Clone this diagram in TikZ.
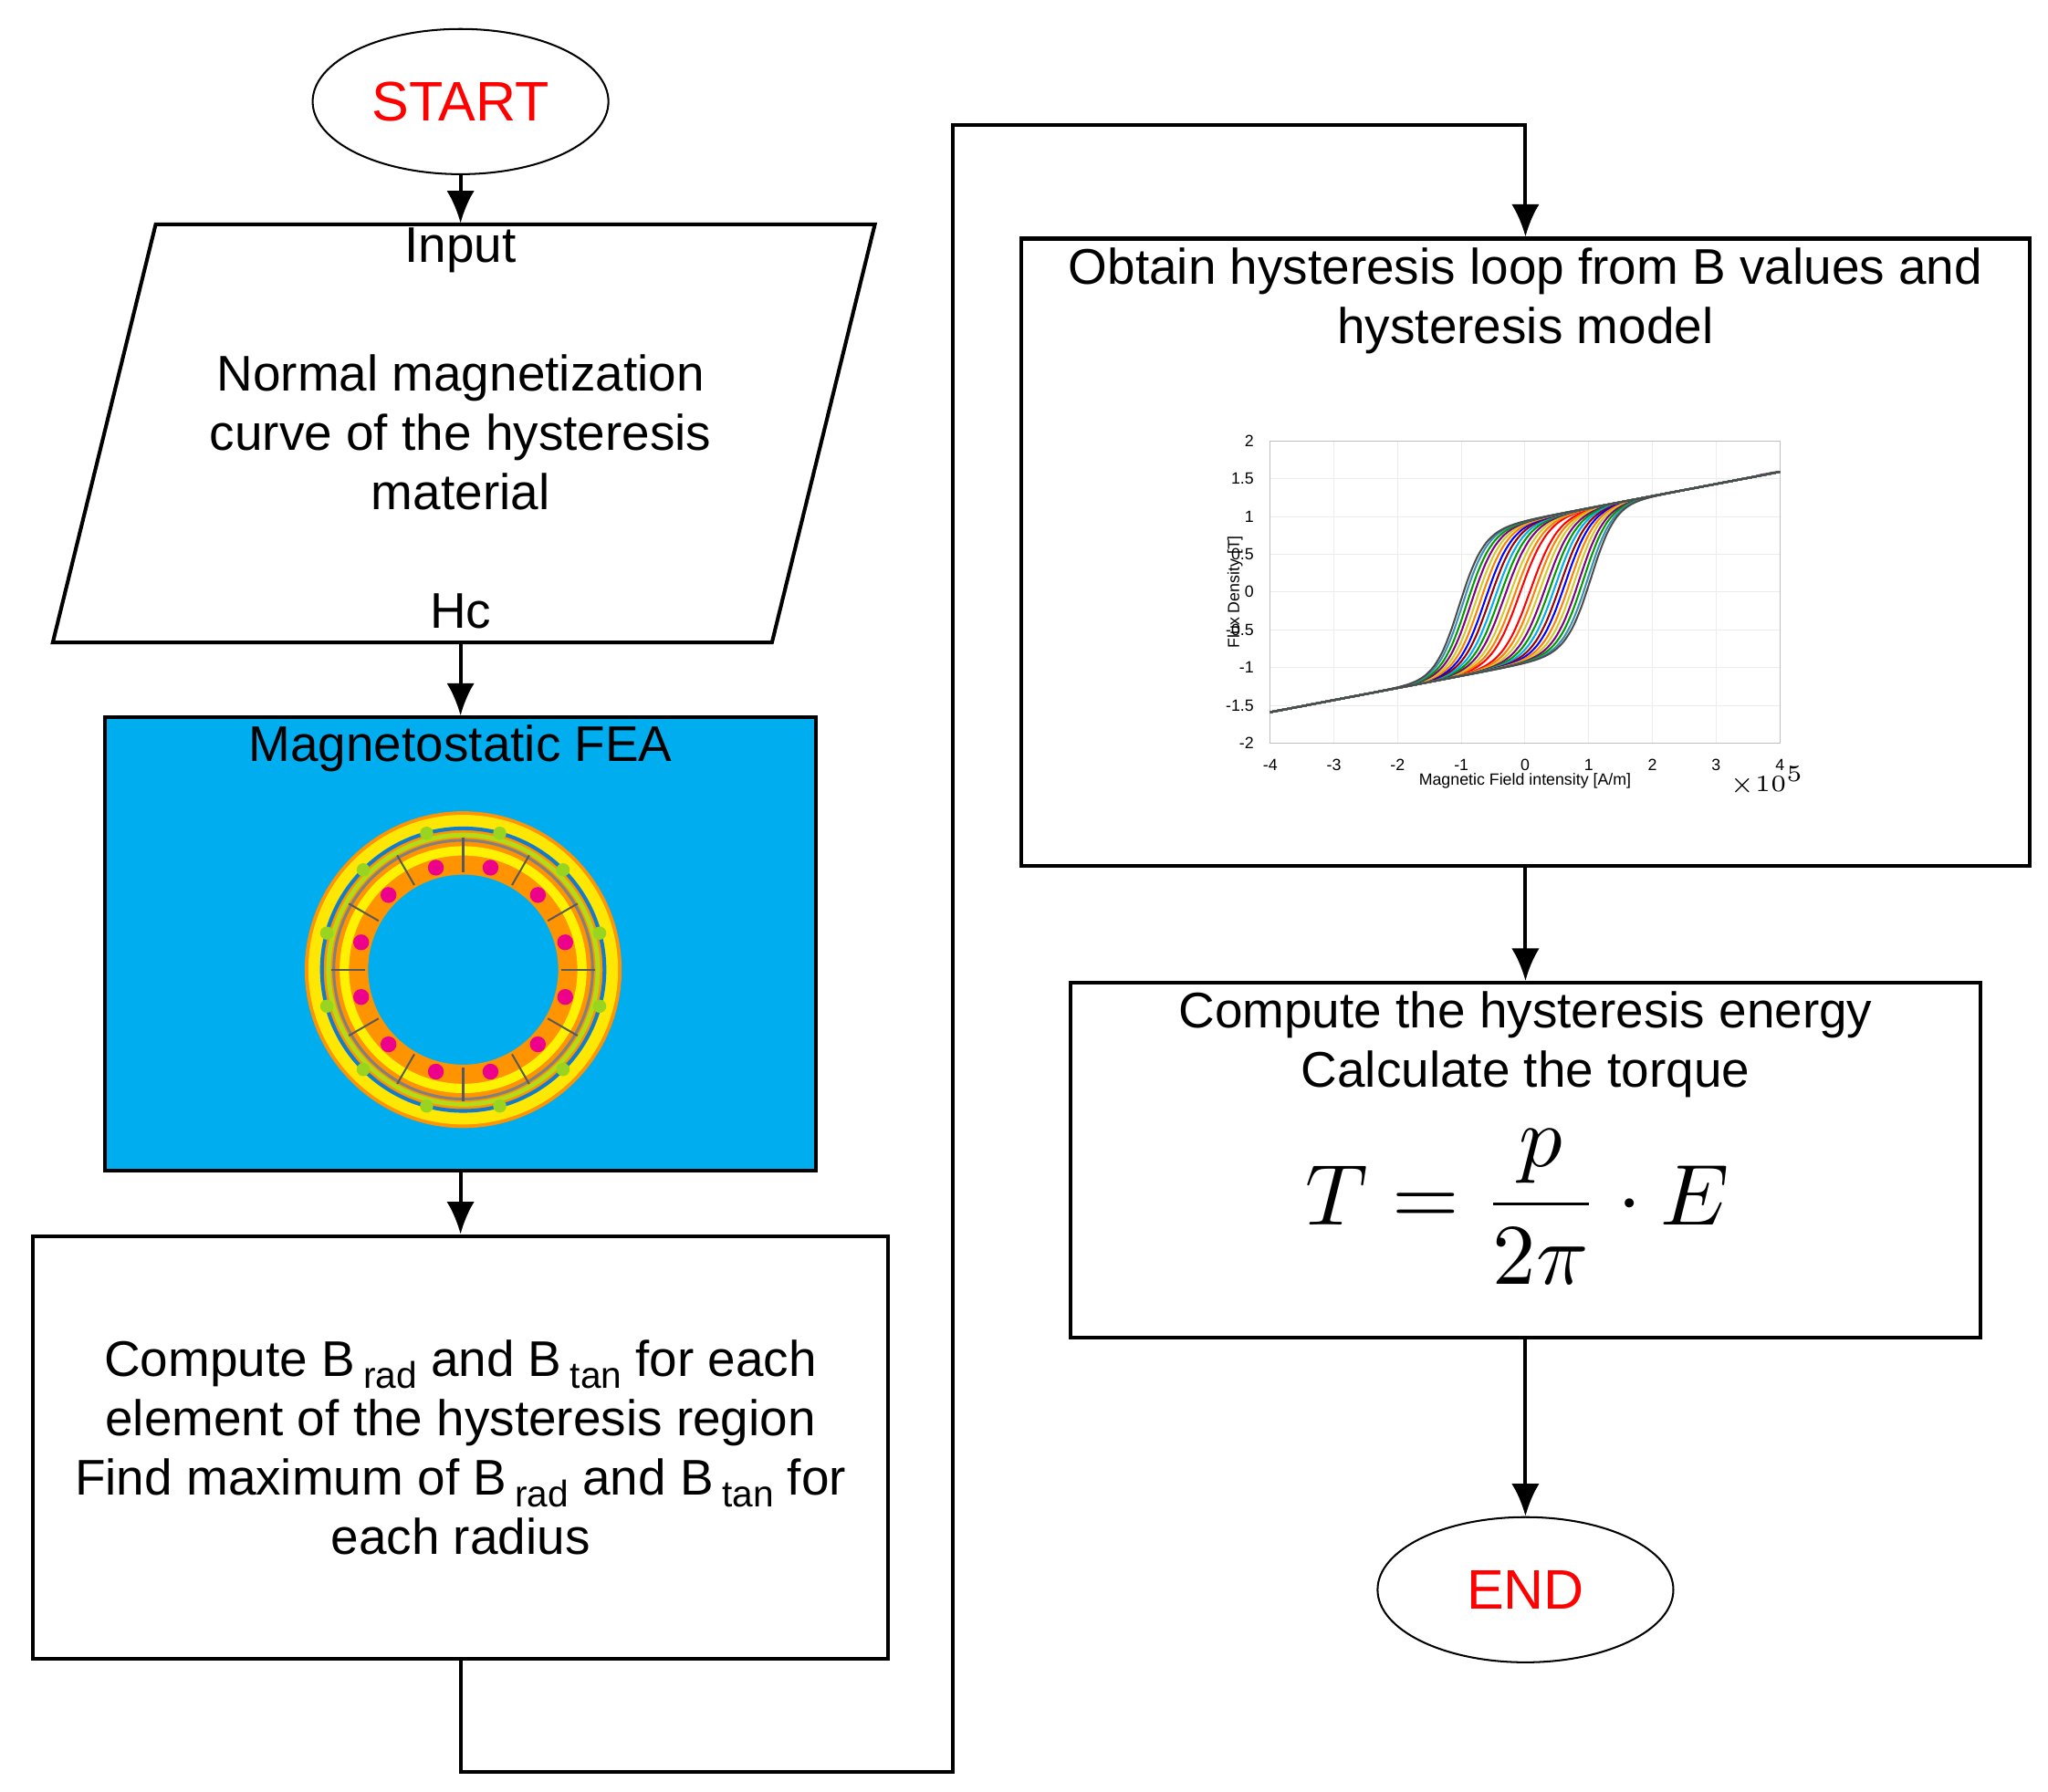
\documentclass[tikz,border=0pt]{standalone}
\usepackage{fontspec}
\setmainfont{Liberation Sans}
\usetikzlibrary{shapes.geometric,arrows.meta}
\newcommand{\sbs}[1]{\,{\raisebox{-0.45ex}{\fontsize{8}{8}\selectfont #1}}}
\begin{document}
\begin{tikzpicture}[x=0.01cm,y=-0.01cm,
  every node/.style={font=\fontsize{10.8}{12.8}\selectfont},
  ell/.style={draw,ellipse,minimum width=2.24cm,minimum height=1.1cm,text=red,font=\fontsize{12}{14}\selectfont},
  arr/.style={-{Latex[length=7pt,width=6pt]},thick}]
\useasboundingbox (0,0) rectangle (1552,1358);
% START
\node[ell] (start) at (349,77) {START};
% parallelogram
\coordinate (p1) at (118,170); \coordinate (p2) at (663,170);
\coordinate (p3) at (585,487); \coordinate (p4) at (40,487);
\draw[thick] (p1)--(p2)--(p3)--(p4)--cycle;
\node[inner sep=0,minimum width=1cm,minimum height=3.17cm] (input) at (349,328.5) {};
\node at (349,190) {Input};
\node[align=center] at (349,328) {Normal magnetization\\curve of the hysteresis\\material};
\node at (349,463) {Hc};
% FEA
\node[draw,thick,fill=cyan,minimum width=5.38cm,minimum height=3.43cm,inner sep=0] (fea) at (349,715.5) {};
\node at (349,567) {Magnetostatic FEA};
\begin{scope}[shift={(351,735)}]
 \fill[orange!85!yellow,even odd rule] (0,0) circle (1.2cm) (0,0) circle (0.72cm);
 \draw[yellow!90!orange,line width=3pt] (0,0) circle (1.12cm);
 \draw[yellow!70!green,line width=1pt] (0,0) circle (1.02cm);
 \draw[yellow,line width=2pt] (0,0) circle (0.9cm);
 \draw[cyan!60!blue,line width=0.8pt] (0,0) circle (1.07cm);
 \draw[gray,line width=0.6pt] (0,0) circle (0.98cm);
 \foreach \a in {0,30,...,330}{
   \fill[magenta] (\a+15:0.8cm) circle (0.06cm);
   \draw[gray!70!black] (\a:0.74cm)--(\a:1.0cm);
   \fill[yellow!60!green] (\a+15:1.07cm) circle (0.05cm);
 }
\end{scope}
% compute box
\node[draw,thick,minimum width=6.48cm,minimum height=3.2cm,align=center] (comp) at (349,1097)
 {Compute B\sbs{rad} and B\sbs{tan} for each\\element of the hysteresis region\\Find maximum of B\sbs{rad} and B\sbs{tan} for\\each radius};
% hysteresis box
\node[draw,thick,minimum width=7.64cm,minimum height=4.75cm,inner sep=0] (hyst) at (1156,418.5) {};
\node[align=center] at (1156,228) {Obtain hysteresis loop from B values and\\hysteresis model};
\begin{scope}[xshift=11.55cm,yshift=-4.485cm,x=0.4825cm,y=0.5725cm]
 \foreach \t in {-3,-2,-1,0,1,2,3} \draw[gray!15,very thin] (\t,-2)--(\t,2);
 \foreach \t in {-1.5,-1,-0.5,0,0.5,1,1.5} \draw[gray!15,very thin] (-4,\t)--(4,\t);
 \draw[gray!50,very thin] (-4,-2) rectangle (4,2);
 \foreach \t in {-4,-3,-2,-1,0,1,2,3,4} \node[font=\fontsize{3.5}{4}\selectfont,anchor=north] at (\t,-2) {\t};
 \foreach \t in {-2,-1.5,-1,-0.5,0,0.5,1,1.5,2} \node[font=\fontsize{3.5}{4}\selectfont,anchor=east] at (-4,\t) {\t};
 \node[font=\fontsize{3.5}{4}\selectfont] at (0,-2.5) {Magnetic Field intensity [A/m]};
 \node[font=\fontsize{3.5}{4}\selectfont,rotate=90] at (-4.55,0) {Flux Density [T]};
 \node[font=\fontsize{3.5}{4}\selectfont] at (3.8,-2.5) {$\times10^5$};
 \foreach \c/\col in {0.08/red,0.16/orange,0.24/yellow!80!black,0.32/violet,0.4/green!60!black,0.48/cyan,0.56/red!60!black,0.64/blue,0.72/orange,0.8/yellow!80!black,0.88/violet,0.96/green!60!black,1.04/cyan!70!black}{
   \draw[\col,thin,smooth,samples=60,domain=-4:4] plot (\x,{0.95*tanh(2.3*(\x+\c*(1-(\x/4)^2)))+0.16*\x});
   \draw[\col,thin,smooth,samples=60,domain=-4:4] plot (\x,{0.95*tanh(2.3*(\x-\c*(1-(\x/4)^2)))+0.16*\x});
 }
 \draw[black!70,thin,smooth,samples=60,domain=-4:4] plot (\x,{0.95*tanh(2.3*(\x+1.1*(1-(\x/4)^2)))+0.16*\x});
 \draw[black!70,thin,smooth,samples=60,domain=-4:4] plot (\x,{0.95*tanh(2.3*(\x-1.1*(1-(\x/4)^2)))+0.16*\x});
\end{scope}
% torque box
\node[draw,thick,minimum width=6.89cm,minimum height=2.69cm,inner sep=0] (torq) at (1156,879.5) {};
\node[align=center] at (1156,792) {Compute the hysteresis energy\\Calculate the torque};
\node[scale=1.7] at (1150,915) {$T=\displaystyle\frac{p}{2\pi}\cdot E$};
% END
\node[ell] (end) at (1156,1205) {END};
% arrows
\draw[arr] (start.south) -- (input.north);
\draw[arr] (input.south) -- (fea.north);
\draw[arr] (fea.south) -- (comp.north);
\coordinate (c1) at (349,1343); \coordinate (c2) at (722,1343);
\coordinate (c3) at (722,95); \coordinate (c4) at (1156,95);
\draw[arr] (comp.south) -- (c1) -- (c2) -- (c3) -- (c4) -- (hyst.north);
\draw[arr] (hyst.south) -- (torq.north);
\draw[arr] (torq.south) -- (end.north);
\end{tikzpicture}
\end{document}
